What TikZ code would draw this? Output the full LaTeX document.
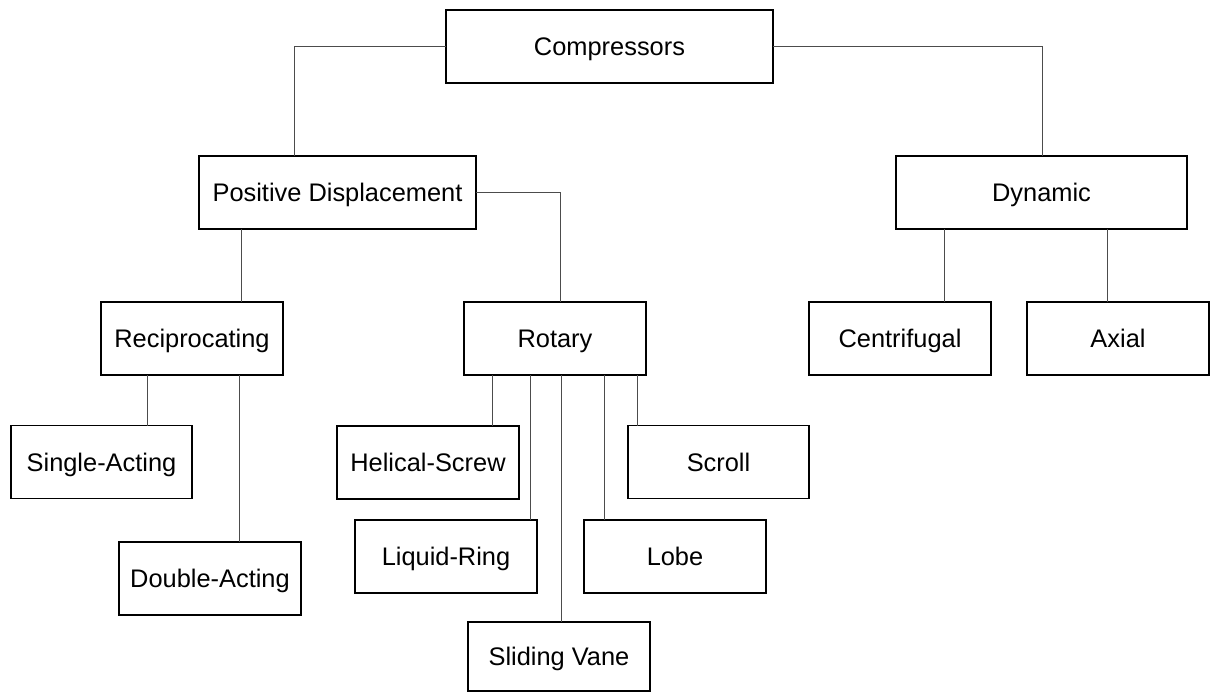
\documentclass[tikz,border=0pt]{standalone}
\usepackage{fontspec}
\setmainfont{Liberation Sans}
\begin{document}
\begin{tikzpicture}[x=1pt,y=-1pt,
  box/.style={draw=black,line width=1.4pt,fill=white,inner sep=0pt,outer sep=0pt,minimum height=73pt,
    text height=18.2pt,text depth=0pt,font=\fontsize{25.4}{30}\selectfont},
  conn/.style={draw=black!70,line width=0.9pt}]
\useasboundingbox (0,0) rectangle (1216,693);
% connector x positions
\coordinate (xpd) at (294,0);
\coordinate (xdyn) at (1042,0);
\coordinate (xrot) at (560,0);
\coordinate (xrec) at (241,0);
\coordinate (xcen) at (944,0);
\coordinate (xax) at (1107,0);
\coordinate (xsa) at (147,0);
\coordinate (xda) at (239,0);
\coordinate (xhs) at (492,0);
\coordinate (xlr) at (530,0);
\coordinate (xsv) at (561,0);
\coordinate (xlo) at (604,0);
\coordinate (xsc) at (637,0);
% boxes
\node[box,minimum width=327pt] (comp) at (609.5,46.5) {Compressors};
\node[box,minimum width=277pt] (pd) at (337.5,192.5) {Positive Displacement};
\node[box,minimum width=291pt] (dyn) at (1041.5,192.5) {Dynamic};
\node[box,minimum width=182pt] (rec) at (192,338.5) {Reciprocating};
\node[box,minimum width=182pt] (rot) at (555,338.5) {Rotary};
\node[box,minimum width=182pt] (cen) at (900,338.5) {Centrifugal};
\node[box,minimum width=182pt] (ax) at (1118,338.5) {Axial};
\node[box,minimum width=181pt] (sa) at (101.5,462) {Single-Acting};
\node[box,minimum width=182pt] (da) at (210,578.5) {Double-Acting};
\node[box,minimum width=182pt] (hs) at (428,462.5) {Helical-Screw};
\node[box,minimum width=181pt] (sc) at (718.5,462) {Scroll};
\node[box,minimum width=182pt] (lr) at (446,556.5) {Liquid-Ring};
\node[box,minimum width=182pt] (lo) at (675,556.5) {Lobe};
\node[box,minimum width=182pt,minimum height=69pt] (sv) at (559,656.5) {Sliding Vane};
% connectors
\draw[conn] (comp.west) -| (pd.north -| xpd);
\draw[conn] (comp.east) -| (dyn.north -| xdyn);
\draw[conn] (pd.east) -| (rot.north -| xrot);
\draw[conn] (pd.south -| xrec) -- (rec.north -| xrec);
\draw[conn] (dyn.south -| xcen) -- (cen.north -| xcen);
\draw[conn] (dyn.south -| xax) -- (ax.north -| xax);
\draw[conn] (rec.south -| xsa) -- (sa.north -| xsa);
\draw[conn] (rec.south -| xda) -- (da.north -| xda);
\draw[conn] (rot.south -| xhs) -- (hs.north -| xhs);
\draw[conn] (rot.south -| xlr) -- (lr.north -| xlr);
\draw[conn] (rot.south -| xsv) -- (sv.north -| xsv);
\draw[conn] (rot.south -| xlo) -- (lo.north -| xlo);
\draw[conn] (rot.south -| xsc) -- (sc.north -| xsc);
\end{tikzpicture}
\end{document}
